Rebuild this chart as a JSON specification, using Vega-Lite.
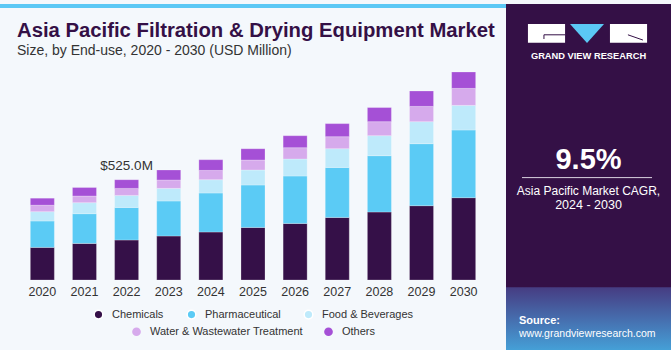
{
  "$schema": "https://vega.github.io/schema/vega-lite/v6.json",
  "background": "#F4F8FC",
  "padding": 0,
  "spacing": 0,
  "config": {
    "font": "Liberation Sans",
    "view": {"stroke": null},
    "legend": {"layout": {"bottom": {"anchor": "middle", "direction": "vertical", "center": true, "margin": 4}}}
  },
  "datasets": {
    "segments": [
      {"segment": "Chemicals", "rank": 1},
      {"segment": "Pharmaceutical", "rank": 2},
      {"segment": "Food & Beverages", "rank": 3},
      {"segment": "Water & Wastewater Treatment", "rank": 4},
      {"segment": "Others", "rank": 5}
    ]
  },
  "resolve": {"scale": {"color": "independent", "fill": "independent"}, "legend": {"color": "independent", "fill": "independent"}},
  "hconcat": [
    {
      "spacing": 9,
      "resolve": {"scale": {"color": "independent", "fill": "independent"}, "legend": {"color": "independent", "fill": "independent"}},
      "vconcat": [
        {
          "width": 506,
          "height": 4,
          "view": {"fill": "#5BC8F5", "stroke": null},
          "data": {"values": [{}]},
          "mark": {"type": "text"},
          "encoding": {"text": {"value": ""}}
        },
        {
          "width": 506,
          "height": 216,
          "title": {
            "text": "Asia Pacific Filtration & Drying Equipment Market",
            "subtitle": "Size, by End-use, 2020 - 2030 (USD Million)",
            "anchor": "start",
            "frame": "group",
            "dx": 17,
            "font": "Liberation Sans",
            "fontSize": 20.3,
            "fontWeight": "bold",
            "color": "#341046",
            "subtitleFont": "Liberation Sans",
            "subtitleFontSize": 14,
            "subtitleColor": "#333333",
            "subtitlePadding": 3,
            "offset": 6
          },
          "data": {"values": [
            {"year": "2020", "segment": "Chemicals", "value": 170.6},
            {"year": "2020", "segment": "Pharmaceutical", "value": 138.2},
            {"year": "2020", "segment": "Food & Beverages", "value": 48.7},
            {"year": "2020", "segment": "Water & Wastewater Treatment", "value": 34.0},
            {"year": "2020", "segment": "Others", "value": 36.6},
            {"year": "2021", "segment": "Chemicals", "value": 191.6},
            {"year": "2021", "segment": "Pharmaceutical", "value": 155.4},
            {"year": "2021", "segment": "Food & Beverages", "value": 57.6},
            {"year": "2021", "segment": "Water & Wastewater Treatment", "value": 35.0},
            {"year": "2021", "segment": "Others", "value": 44.5},
            {"year": "2022", "segment": "Chemicals", "value": 209.4},
            {"year": "2022", "segment": "Pharmaceutical", "value": 170.6},
            {"year": "2022", "segment": "Food & Beverages", "value": 62.8},
            {"year": "2022", "segment": "Water & Wastewater Treatment", "value": 36.6},
            {"year": "2022", "segment": "Others", "value": 45.6},
            {"year": "2023", "segment": "Chemicals", "value": 230.3},
            {"year": "2023", "segment": "Pharmaceutical", "value": 183.2},
            {"year": "2023", "segment": "Food & Beverages", "value": 66.0},
            {"year": "2023", "segment": "Water & Wastewater Treatment", "value": 44.0},
            {"year": "2023", "segment": "Others", "value": 52.3},
            {"year": "2024", "segment": "Chemicals", "value": 251.2},
            {"year": "2024", "segment": "Pharmaceutical", "value": 204.1},
            {"year": "2024", "segment": "Food & Beverages", "value": 69.6},
            {"year": "2024", "segment": "Water & Wastewater Treatment", "value": 48.7},
            {"year": "2024", "segment": "Others", "value": 56.0},
            {"year": "2025", "segment": "Chemicals", "value": 275.3},
            {"year": "2025", "segment": "Pharmaceutical", "value": 221.9},
            {"year": "2025", "segment": "Food & Beverages", "value": 78.5},
            {"year": "2025", "segment": "Water & Wastewater Treatment", "value": 52.3},
            {"year": "2025", "segment": "Others", "value": 59.1},
            {"year": "2026", "segment": "Chemicals", "value": 296.2},
            {"year": "2026", "segment": "Pharmaceutical", "value": 248.1},
            {"year": "2026", "segment": "Food & Beverages", "value": 89.0},
            {"year": "2026", "segment": "Water & Wastewater Treatment", "value": 59.1},
            {"year": "2026", "segment": "Others", "value": 62.8},
            {"year": "2027", "segment": "Chemicals", "value": 327.6},
            {"year": "2027", "segment": "Pharmaceutical", "value": 261.7},
            {"year": "2027", "segment": "Food & Beverages", "value": 97.9},
            {"year": "2027", "segment": "Water & Wastewater Treatment", "value": 62.8},
            {"year": "2027", "segment": "Others", "value": 68.5},
            {"year": "2028", "segment": "Chemicals", "value": 355.9},
            {"year": "2028", "segment": "Pharmaceutical", "value": 294.7},
            {"year": "2028", "segment": "Food & Beverages", "value": 104.7},
            {"year": "2028", "segment": "Water & Wastewater Treatment", "value": 73.3},
            {"year": "2028", "segment": "Others", "value": 74.0},
            {"year": "2029", "segment": "Chemicals", "value": 388.9},
            {"year": "2029", "segment": "Pharmaceutical", "value": 324.5},
            {"year": "2029", "segment": "Food & Beverages", "value": 115.1},
            {"year": "2029", "segment": "Water & Wastewater Treatment", "value": 80.1},
            {"year": "2029", "segment": "Others", "value": 80.6},
            {"year": "2030", "segment": "Chemicals", "value": 430.8},
            {"year": "2030", "segment": "Pharmaceutical", "value": 354.3},
            {"year": "2030", "segment": "Food & Beverages", "value": 128.8},
            {"year": "2030", "segment": "Water & Wastewater Treatment", "value": 89.0},
            {"year": "2030", "segment": "Others", "value": 85.8}
          ]},
          "layer": [
            {
              "transform": [{"lookup": "segment", "from": {"data": {"name": "segments"}, "key": "segment", "fields": ["rank"]}}],
              "mark": {"type": "bar", "stroke": "#ffffff", "strokeWidth": 0.7, "strokeOpacity": 0.35},
              "encoding": {
                "x": {"field": "year", "type": "ordinal", "scale": {"paddingInner": 0.43, "paddingOuter": 0.72},
                  "axis": {"title": null, "labelAngle": 0, "ticks": false, "domain": false, "labelFontSize": 12.5, "labelColor": "#333333", "labelPadding": 5, "labelFont": "Liberation Sans"}},
                "y": {"field": "value", "type": "quantitative", "stack": "zero", "scale": {"domain": [0, 1130.5], "nice": false}, "axis": null},
                "order": {"field": "rank", "type": "quantitative", "sort": "ascending"},
                "color": {
                  "field": "segment", "type": "nominal",
                  "sort": ["Chemicals", "Pharmaceutical", "Food & Beverages", "Water & Wastewater Treatment", "Others"],
                  "scale": {"domain": ["Chemicals", "Pharmaceutical", "Food & Beverages", "Water & Wastewater Treatment", "Others"],
                            "range": ["#351048", "#5BCBF5", "#BEEAFB", "#D6AAEC", "#A550D6"]},
                  "legend": {"values": ["Chemicals", "Pharmaceutical", "Food & Beverages"], "title": null, "orient": "bottom", "direction": "horizontal",
                    "labelFontSize": 11, "labelColor": "#333333", "symbolType": "circle", "symbolSize": 75, "columnPadding": 20, "labelOffset": 8, "offset": 11, "padding": 0}
                }
              }
            },
            {
              "transform": [{"filter": "datum.segment === 'Water & Wastewater Treatment' || datum.segment === 'Others'"}],
              "mark": {"type": "point", "filled": true, "opacity": 0},
              "encoding": {
                "x": {"field": "year", "type": "ordinal"},
                "y": {"field": "value", "type": "quantitative", "stack": null},
                "fill": {
                  "field": "segment", "type": "nominal",
                  "scale": {"domain": ["Water & Wastewater Treatment", "Others"], "range": ["#D6AAEC", "#A550D6"]},
                  "legend": {"title": null, "orient": "bottom", "direction": "horizontal",
                    "labelFontSize": 11, "labelColor": "#333333", "symbolType": "circle", "symbolSize": 75, "symbolOpacity": 1, "columnPadding": 20, "labelOffset": 8, "offset": 11, "padding": 0}
                }
              }
            },
            {
              "data": {"values": [{"year": "2022", "total": 525.0, "label": "$525.0M"}]},
              "mark": {"type": "text", "dy": -10, "baseline": "alphabetic", "fontSize": 13.5, "color": "#333333"},
              "encoding": {
                "x": {"field": "year", "type": "ordinal"},
                "y": {"field": "total", "type": "quantitative"},
                "text": {"field": "label"}
              }
            }
          ]
        }
      ]
    },
    {
      "width": 165,
      "height": 350,
      "view": {"fill": "#341046", "stroke": null},
      "data": {"values": [
        {"role": "brand", "text": "GRAND VIEW RESEARCH"},
        {"role": "cagr", "text": "9.5%"},
        {"role": "l1", "text": "Asia Pacific Market CAGR,"},
        {"role": "l2", "text": "2024 - 2030"},
        {"role": "src", "text": "Source:"},
        {"role": "url", "text": "www.grandviewresearch.com"}
      ]},
      "layer": [
        {
          "data": {"values": [{}]},
          "mark": {"type": "rect", "fill": {"gradient": "linear", "x1": 0, "y1": 0, "x2": 0, "y2": 1,
            "stops": [{"offset": 0, "color": "#463c82"}, {"offset": 0.5, "color": "#4670b0"}, {"offset": 1, "color": "#45a6dc"}]}},
          "encoding": {
            "x": {"datum": 0, "type": "quantitative", "scale": {"domain": [0, 1], "nice": false, "zero": false}, "axis": null},
            "x2": {"datum": 1},
            "y": {"datum": 0.809, "type": "quantitative", "scale": {"domain": [0, 1], "nice": false, "zero": false, "reverse": true}, "axis": null},
            "y2": {"datum": 1}
          }
        },
        {
          "data": {"values": [{}]},
          "mark": {"type": "rect", "fill": "#ffffff"},
          "encoding": {"x": {"datum": 0.133, "type": "quantitative"}, "x2": {"datum": 0.358}, "y": {"datum": 0.057, "type": "quantitative"}, "y2": {"datum": 0.111}}
        },
        {
          "data": {"values": [{}]},
          "mark": {"type": "rect", "fill": "#ffffff"},
          "encoding": {"x": {"datum": 0.63, "type": "quantitative"}, "x2": {"datum": 0.855}, "y": {"datum": 0.057, "type": "quantitative"}, "y2": {"datum": 0.111}}
        },
        {
          "data": {"values": [{}]},
          "mark": {"type": "point", "filled": true, "opacity": 1, "color": "#5BC8F5", "shape": "M-1,-0.56L1,-0.56L0,0.56Z", "size": 1156},
          "encoding": {"x": {"datum": 0.491, "type": "quantitative"}, "y": {"datum": 0.084, "type": "quantitative"}}
        },
        {
          "data": {"values": [{}]},
          "mark": {"type": "rule", "color": "#341046", "strokeWidth": 1},
          "encoding": {"x": {"datum": 0.23, "type": "quantitative"}, "x2": {"datum": 0.358}, "y": {"datum": 0.088, "type": "quantitative"}}
        },
        {
          "data": {"values": [{}]},
          "mark": {"type": "rule", "color": "#341046", "strokeWidth": 1},
          "encoding": {"x": {"datum": 0.23, "type": "quantitative"}, "y": {"datum": 0.088, "type": "quantitative"}, "y2": {"datum": 0.1}}
        },
        {
          "data": {"values": [{}]},
          "mark": {"type": "rule", "color": "#341046", "strokeWidth": 1},
          "encoding": {"x": {"datum": 0.739, "type": "quantitative"}, "y": {"datum": 0.088, "type": "quantitative"}, "x2": {"datum": 0.83}, "y2": {"datum": 0.103}}
        },
        {
          "data": {"values": [{}]},
          "mark": {"type": "rule", "color": "#d9d2e0", "strokeWidth": 1},
          "encoding": {"x": {"datum": 0.097, "type": "quantitative"}, "x2": {"datum": 0.885}, "y": {"datum": 0.496, "type": "quantitative"}}
        },
        {
          "transform": [{"filter": "datum.role === 'brand'"}],
          "mark": {"type": "text", "color": "#ffffff", "fontSize": 9.3, "fontWeight": "bold", "align": "center", "baseline": "alphabetic"},
          "encoding": {"x": {"datum": 0.5, "type": "quantitative"}, "y": {"datum": 0.157, "type": "quantitative"}, "text": {"field": "text"}}
        },
        {
          "transform": [{"filter": "datum.role === 'cagr'"}],
          "mark": {"type": "text", "color": "#ffffff", "fontSize": 29, "fontWeight": "bold", "align": "center", "baseline": "alphabetic"},
          "encoding": {"x": {"datum": 0.5, "type": "quantitative"}, "y": {"datum": 0.471, "type": "quantitative"}, "text": {"field": "text"}}
        },
        {
          "transform": [{"filter": "datum.role === 'l1'"}],
          "mark": {"type": "text", "color": "#ffffff", "fontSize": 12, "align": "center", "baseline": "alphabetic"},
          "encoding": {"x": {"datum": 0.5, "type": "quantitative"}, "y": {"datum": 0.546, "type": "quantitative"}, "text": {"field": "text"}}
        },
        {
          "transform": [{"filter": "datum.role === 'l2'"}],
          "mark": {"type": "text", "color": "#ffffff", "fontSize": 12.5, "align": "center", "baseline": "alphabetic"},
          "encoding": {"x": {"datum": 0.5, "type": "quantitative"}, "y": {"datum": 0.586, "type": "quantitative"}, "text": {"field": "text"}}
        },
        {
          "transform": [{"filter": "datum.role === 'src'"}],
          "mark": {"type": "text", "color": "#ffffff", "fontSize": 11, "fontWeight": "bold", "align": "left", "baseline": "alphabetic"},
          "encoding": {"x": {"datum": 0.079, "type": "quantitative"}, "y": {"datum": 0.914, "type": "quantitative"}, "text": {"field": "text"}}
        },
        {
          "transform": [{"filter": "datum.role === 'url'"}],
          "mark": {"type": "text", "color": "#ffffff", "fontSize": 10.5, "align": "left", "baseline": "alphabetic"},
          "encoding": {"x": {"datum": 0.079, "type": "quantitative"}, "y": {"datum": 0.951, "type": "quantitative"}, "text": {"field": "text"}}
        }
      ]
    }
  ]
}
